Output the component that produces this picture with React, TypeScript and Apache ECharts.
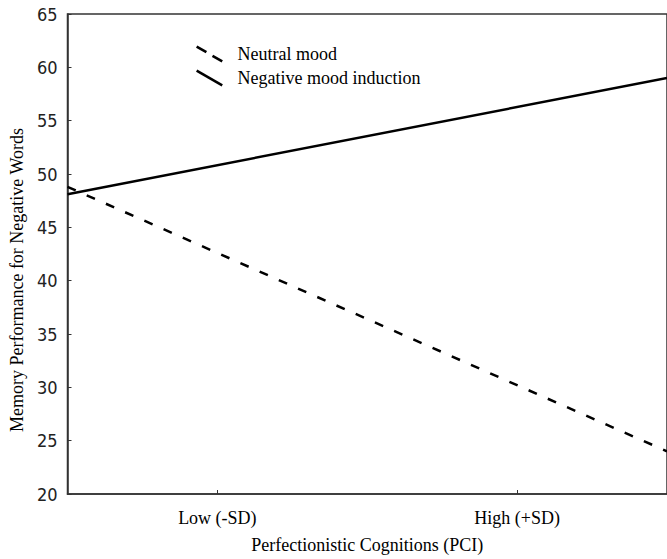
import React, { useEffect, useRef } from "react";
import * as echarts from "echarts";

// Data (x in SD units of the predictor: Low = -1 SD, High = +1 SD; plot spans -2 .. +2)
const categories = ["Low (-SD)", "High (+SD)"];
const predictorX = [-2, 2];
const neutralMood = [48.8, 24.0];
const negativeMood = [48.1, 59.0];
const seriesNames = ["Neutral mood", "Negative mood induction"];
const yTicks = { min: 20, max: 65, interval: 5 };

const solidIcon =
  "path://M1.65,-0.13 L27.65,14.87 L26.35,17.13 L0.35,2.13 Z";
const dashedIcon =
  "path://M1.65,-0.13 L11.55,5.57 L10.25,7.83 L0.35,2.13 Z M17.75,9.17 L27.65,14.87 L26.35,17.13 L16.45,11.43 Z";

const SERIF = "'Liberation Serif', 'Times New Roman', serif";
const NARROW = "'Liberation Sans Narrow', 'DejaVu Sans Condensed', sans-serif";

export default function App() {
  const ref = useRef<HTMLDivElement>(null);
  useEffect(() => {
    document.body.style.margin = "0";
    if (!ref.current) return;
    const chart = echarts.init(ref.current, null, { renderer: "svg" });
    const pairs = (vals: number[]) => predictorX.map((x, i) => [x, vals[i]]);
    chart.setOption({
      animation: false,
      backgroundColor: "#fff",
      grid: {
        left: 67,
        top: 14,
        width: 608,
        height: 485,
        show: true,
        borderColor: "#333",
        borderWidth: 1.5,
        containLabel: false,
      },
      legend: {
        orient: "vertical",
        left: 191,
        top: 40,
        itemWidth: 28,
        itemHeight: 17,
        itemGap: 6,
        data: [
          { name: seriesNames[0], icon: dashedIcon },
          { name: seriesNames[1], icon: solidIcon },
        ],
        itemStyle: { color: "#000", borderWidth: 0 },
        textStyle: {
          fontFamily: SERIF,
          fontSize: 18,
          color: "#000",
          padding: [0, 0, 0, 9],
        },
      },
      xAxis: [
        {
          type: "category",
          data: categories,
          boundaryGap: true,
          axisLine: { show: true, lineStyle: { color: "#333", width: 1.5 } },
          axisTick: {
            show: true,
            inside: true,
            length: 4,
            alignWithLabel: true,
            lineStyle: { color: "#333" },
          },
          axisLabel: { margin: 15, fontFamily: SERIF, fontSize: 18, color: "#000" },
          splitLine: { show: false },
          name: "Perfectionistic Cognitions (PCI)",
          nameLocation: "middle",
          nameGap: 42,
          nameTextStyle: { fontFamily: SERIF, fontSize: 18, color: "#000" },
        },
        { type: "value", min: -2, max: 2, show: false },
      ],
      yAxis: {
        type: "value",
        min: yTicks.min,
        max: yTicks.max,
        interval: yTicks.interval,
        axisLine: { show: true, onZero: false, lineStyle: { color: "#333", width: 1.5 } },
        axisTick: { show: true, inside: true, length: 4, lineStyle: { color: "#333" } },
        axisLabel: { margin: 10, fontFamily: NARROW, fontSize: 18, color: "#222" },
        splitLine: { show: false },
        name: "Memory Performance for Negative Words",
        nameLocation: "middle",
        nameGap: 37,
        nameTextStyle: {
          fontFamily: SERIF,
          fontSize: 18,
          color: "#000",
          padding: [0, 52, 0, 0],
        },
      },
      series: [
        {
          name: seriesNames[0],
          type: "line",
          xAxisIndex: 1,
          data: pairs(neutralMood),
          showSymbol: false,
          lineStyle: { color: "#000", width: 2.5, type: [9, 12] },
          itemStyle: { color: "#000" },
        },
        {
          name: seriesNames[1],
          type: "line",
          xAxisIndex: 1,
          data: pairs(negativeMood),
          showSymbol: false,
          lineStyle: { color: "#000", width: 2.5, type: "solid" },
          itemStyle: { color: "#000" },
        },
      ],
    });
    return () => chart.dispose();
  }, []);
  return <div ref={ref} style={{ width: 667, height: 559 }} />;
}
